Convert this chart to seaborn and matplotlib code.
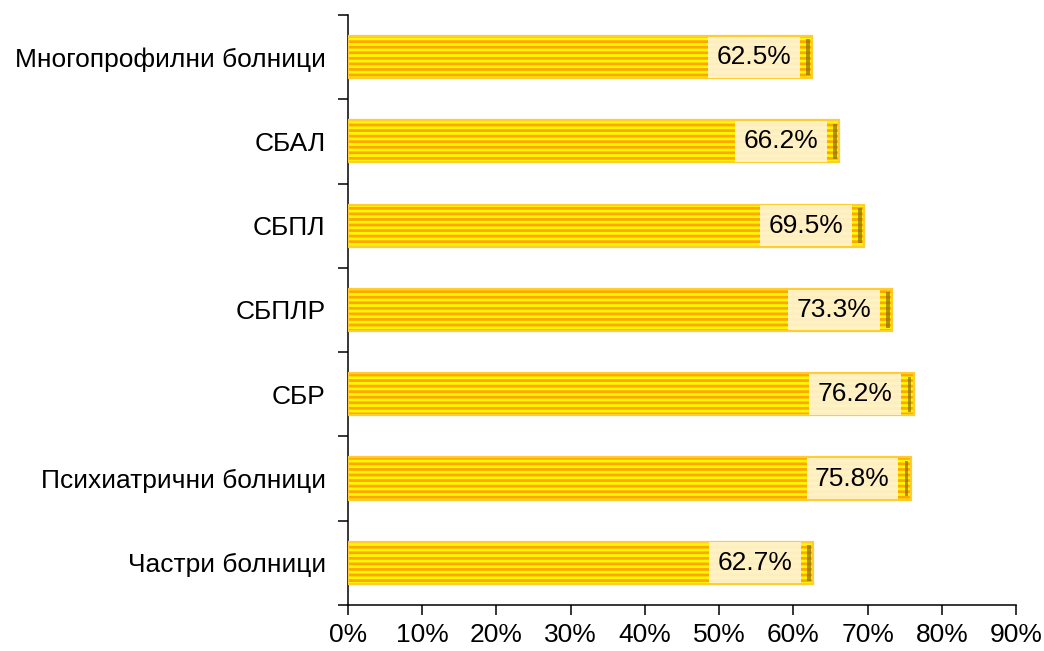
import matplotlib
matplotlib.use("Agg")
import matplotlib.pyplot as plt
import matplotlib.ticker as mticker
import seaborn as sns
import numpy as np
import pandas as pd

# ── DATA ──────────────────────────────────────────────────────────────────────
categories = ["Многопрофилни болници", "СБАЛ", "СБПЛ", "СБПЛР", "СБР",
              "Психиатрични болници", "Частри болници"]
values = [62.5, 66.2, 69.5, 73.3, 76.2, 75.8, 62.7]
x_ticks = [0, 10, 20, 30, 40, 50, 60, 70, 80, 90]

df = pd.DataFrame({"cat": categories, "val": values})

# ── STYLE ─────────────────────────────────────────────────────────────────────
sns.set_theme(style="white")
plt.rcParams["font.family"] = ["Liberation Sans", "DejaVu Sans"]
plt.rcParams["hatch.linewidth"] = 2.0
plt.rcParams["text.color"] = "black"

YELLOW = "#FFF800"
ORANGE = "#FFA600"
GOLD = "#FFCC33"
LABEL_BG = "#FFF3D2"
FS = 19

fig = plt.figure(figsize=(10.44, 6.51), dpi=100)
ax = fig.add_axes([0.3333, 0.0707, 0.6399, 0.9063])

sns.barplot(data=df, y="cat", x="val", orient="h", order=categories,
            color=YELLOW, width=0.5, ax=ax, saturation=1)

for p in ax.patches:
    p.set_hatch("---")
    p.set_edgecolor(ORANGE)
    p.set_linewidth(0)

# golden outline on top of the striped bars
ax.barh(np.arange(len(categories)), values, height=0.5,
        fill=False, edgecolor=GOLD, linewidth=1.6, zorder=3)

# thin dark end strip on each bar
ax.barh(np.arange(len(categories)), [0.5] * len(values),
        left=np.array(values) - 0.8, height=0.42,
        color="#8C6E00", alpha=0.7, linewidth=0, zorder=3)

for i, v in enumerate(values):
    ax.text(v - 2.8, i, f"{v:.1f}%", ha="right", va="center",
            fontsize=FS, color="black", zorder=4,
            bbox=dict(boxstyle="square,pad=0.32", facecolor=LABEL_BG,
                      edgecolor="none", alpha=0.93))

ax.set_xlim(0, 90)
ax.set_ylim(len(categories) - 0.5, -0.5)
ax.set_xticks(x_ticks)
ax.xaxis.set_major_formatter(mticker.FuncFormatter(lambda x, _: f"{x:.0f}%"))

# category labels at centers without ticks, ticks at boundaries
ax.set_yticks(np.arange(len(categories)))
ax.set_yticklabels(categories)
ax.set_yticks(np.arange(-0.5, len(categories)), minor=True)
ax.tick_params(axis="y", which="both", left=True)
ax.tick_params(axis="y", which="major", length=0, pad=16,
               labelsize=FS, labelcolor="black")
ax.tick_params(axis="y", which="minor", direction="out", length=7,
               width=1.1, color="black")
ax.tick_params(axis="x", direction="out", length=7, width=1.1,
               color="black", labelsize=FS, labelcolor="black",
               pad=6, bottom=True)

ax.set_xlabel("")
ax.set_ylabel("")
for s in ["top", "right"]:
    ax.spines[s].set_visible(False)
for s in ["left", "bottom"]:
    ax.spines[s].set_color("black")
    ax.spines[s].set_linewidth(1.1)

plt.savefig("out.png", dpi=100)
plt.close()
